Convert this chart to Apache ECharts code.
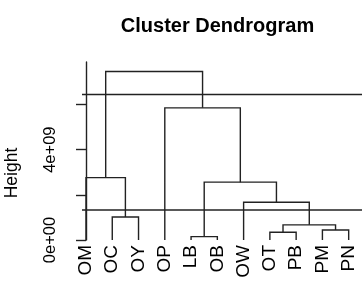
<!DOCTYPE html>
<html><head><meta charset="utf-8">
<script src="https://cdn.jsdelivr.net/npm/echarts@6/dist/echarts.min.js"></script>
<style>html,body{margin:0;padding:0;background:#fff}#c{width:363px;height:289px}</style>
</head><body><div id="c"></div>
<script>
const leaves = ['OM','OC','OY','OP','LB','OB','OW','OT','PB','PM','PN'];
// R-style merge table: negative = leaf (1-based), positive = earlier merge step
const mergeA = [-5, -8, -10, 2, -2, -7, 1, -1, -4, 8];
const mergeB = [-6, -9, -11, 3, -3, 4, 6, 5, 7, 9];
const mergeHeight = [0.15e9, 0.34e9, 0.44e9, 0.67e9, 1.02e9, 1.67e9, 2.56e9, 2.76e9, 5.85e9, 7.46e9];
const cutHeights = [6.44e9, 1.33e9];
const yTicks = [0, 2e9, 4e9, 6e9];
const yTickLabels = [0, 4e9];

const FONT = '"Liberation Sans", Arial, Helvetica, sans-serif';
const nodeX = [], nodeH = [];
function pos(ref) {
  if (ref < 0) return [-ref - 1, 0];
  return [nodeX[ref - 1], nodeH[ref - 1]];
}
const segData = [];
for (let i = 0; i < mergeA.length; i++) {
  const a = pos(mergeA[i]), b = pos(mergeB[i]);
  nodeX.push((a[0] + b[0]) / 2);
  nodeH.push(mergeHeight[i]);
  segData.push([a[0], a[1], b[0], b[1], mergeHeight[i]]);
}
function sci(v) {
  if (v === 0) return '0e+00';
  const e = Math.floor(Math.log10(Math.abs(v)));
  const m = Math.round(v / Math.pow(10, e));
  return m + 'e' + (e < 0 ? '-' : '+') + String(Math.abs(e)).padStart(2, '0');
}
const xMin = -0.152, xMax = 10.507;
const lineColor = '#222';
const chart = echarts.init(document.getElementById('c'), null, {renderer: 'canvas'});
const series = [{
  type: 'custom',
  data: segData,
  encode: {x: [0, 2], y: [1, 3, 4]},
  renderItem: function (params, api) {
    const p1 = api.coord([api.value(0), api.value(1)]);
    const h = api.value(4);
    const p2 = api.coord([api.value(0), h]);
    const p3 = api.coord([api.value(2), h]);
    const p4 = api.coord([api.value(2), api.value(3)]);
    return {type: 'polyline', shape: {points: [p1, p2, p3, p4]},
      style: {stroke: lineColor, lineWidth: 1.4, fill: null}};
  },
  silent: true, animation: false
}];
cutHeights.forEach(h => series.push({
  type: 'line', data: [[xMin, h], [xMax, h]], symbol: 'none',
  lineStyle: {color: lineColor, width: 1.4}, silent: true, animation: false
}));
chart.setOption({
  animation: false,
  grid: {left: 82, right: 1, top: 62, bottom: 49, containLabel: false},
  xAxis: {
    type: 'value', min: xMin, max: xMax,
    axisLine: {show: false}, axisTick: {show: false}, splitLine: {show: false},
    axisLabel: {customValues: leaves.map((_, i) => i), formatter: v => leaves[Math.round(v)],
      rotate: 90, margin: 5, fontSize: 19, color: '#000', fontFamily: FONT}
  },
  yAxis: {
    type: 'value', min: 0, max: 7.88e9, offset: 6,
    axisLine: {show: true, lineStyle: {color: lineColor, width: 1.4}},
    axisTick: {show: true, customValues: yTicks, length: 10, lineStyle: {color: lineColor, width: 1.4}},
    axisLabel: {customValues: yTickLabels, formatter: sci, rotate: 90, margin: 17,
      fontSize: 16.5, color: '#000', fontFamily: FONT},
    splitLine: {show: false}
  },
  graphic: [
    {type: 'text', x: 217.5, y: 26, style: {text: 'Cluster Dendrogram', align: 'center', verticalAlign: 'middle',
      font: 'bold 20px ' + FONT, fill: '#000'}},
    {type: 'text', x: 12.5, y: 173, rotation: Math.PI / 2, style: {text: 'Height', align: 'center', verticalAlign: 'middle',
      font: '17.5px ' + FONT, fill: '#000'}}
  ],
  series: series
});
</script></body></html>
